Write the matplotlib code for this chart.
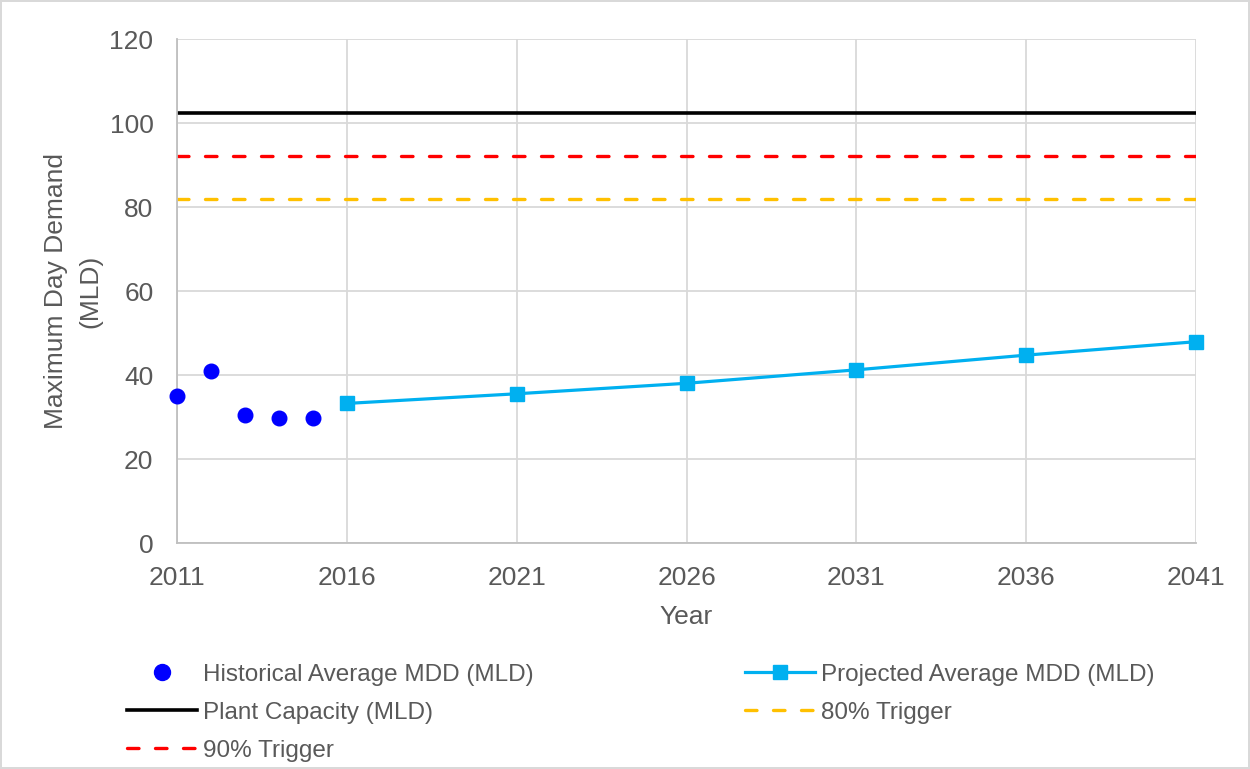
import matplotlib
matplotlib.use("Agg")
import matplotlib.pyplot as plt
from matplotlib.lines import Line2D

plt.rcParams['font.family'] = ['Liberation Sans', 'DejaVu Sans']

hist_years = [2011, 2012, 2013, 2014, 2015]
hist_mdd = [35.0, 41.0, 30.5, 29.9, 29.9]
proj_years = [2016, 2021, 2026, 2031, 2036, 2041]
proj_mdd = [33.3, 35.6, 38.1, 41.3, 44.8, 48.0]
capacity = 102.4
trigger_90 = 92.2
trigger_80 = 81.9
x_ticks = [2011, 2016, 2021, 2026, 2031, 2036, 2041]
y_ticks = [0, 20, 40, 60, 80, 100, 120]

W, H = 1250, 769
fig = plt.figure(figsize=(W / 100, H / 100), dpi=100)
fig.patch.set_edgecolor('#d9d9d9')
fig.patch.set_linewidth(1.5)

L, R, B, T = 177, 1196, 543.3, 39.3
ax = fig.add_axes([L / W, 1 - B / H, (R - L) / W, (B - T) / H])

grid_c = '#d9d9d9'
tick_c = '#595959'
fs = 19
fs_leg = 17.5
lw_d = 2.4
dash = (3.45, 4.95)
ms_sq = 10.5

ax.set_xlim(2011, 2041)
ax.set_ylim(0, 120)
ax.set_xticks(x_ticks)
ax.set_yticks(y_ticks)
ax.grid(True, color=grid_c, linewidth=1.3)
ax.set_axisbelow(True)
for s in ['top', 'right']:
    ax.spines[s].set_visible(False)
for s in ['left', 'bottom']:
    ax.spines[s].set_color('#bfbfbf')
    ax.spines[s].set_linewidth(1.3)
ax.tick_params(length=0, labelsize=fs, labelcolor=tick_c)
ax.tick_params(axis='y', pad=17)
ax.tick_params(axis='x', pad=16)

ax.plot(hist_years, hist_mdd, linestyle='none', marker='o', markersize=10.5,
        color='#0000ff', clip_on=False, zorder=5)
ax.plot(proj_years, proj_mdd, color='#00b0f0', linewidth=2.3, marker='s',
        markersize=ms_sq, clip_on=False, zorder=5)
ax.axhline(capacity, color='black', linewidth=2.6)
ax.axhline(trigger_90, color='#ff0000', linewidth=lw_d, dashes=dash,
           dash_capstyle='round')
ax.axhline(trigger_80, color='#ffc000', linewidth=lw_d, dashes=dash,
           dash_capstyle='round')

ax.set_xlabel('Year', fontsize=fs, color=tick_c, labelpad=11)
ax.set_ylabel('Maximum Day Demand\n(MLD)', fontsize=fs, color=tick_c, labelpad=5,
              linespacing=1.55)

h_hist = Line2D([], [], linestyle='none', marker='o', markersize=11.5, color='#0000ff')
h_cap = Line2D([], [], color='black', linewidth=2.6)
h_90 = Line2D([], [], color='#ff0000', linewidth=lw_d, dashes=dash,
              dash_capstyle='round')
h_proj = Line2D([], [], color='#00b0f0', linewidth=2.3, marker='s', markersize=ms_sq)
h_80 = Line2D([], [], color='#ffc000', linewidth=lw_d, dashes=dash,
              dash_capstyle='round')

common = dict(loc='upper left', frameon=False, fontsize=fs_leg, handlelength=2.88,
              handletextpad=0.25, labelspacing=0.66, borderaxespad=0, borderpad=0)
leg1 = fig.legend([h_hist, h_cap, h_90],
                  ['Historical Average MDD (MLD)', 'Plant Capacity (MLD)', '90% Trigger'],
                  bbox_to_anchor=(127 / W, 1 - 663.5 / H), **common)
leg2 = fig.legend([h_proj, h_80],
                  ['Projected Average MDD (MLD)', '80% Trigger'],
                  bbox_to_anchor=(745 / W, 1 - 663.5 / H), **common)
for lg in (leg1, leg2):
    for t in lg.get_texts():
        t.set_color(tick_c)

fig.savefig('out.png', dpi=100, edgecolor=fig.get_edgecolor())
